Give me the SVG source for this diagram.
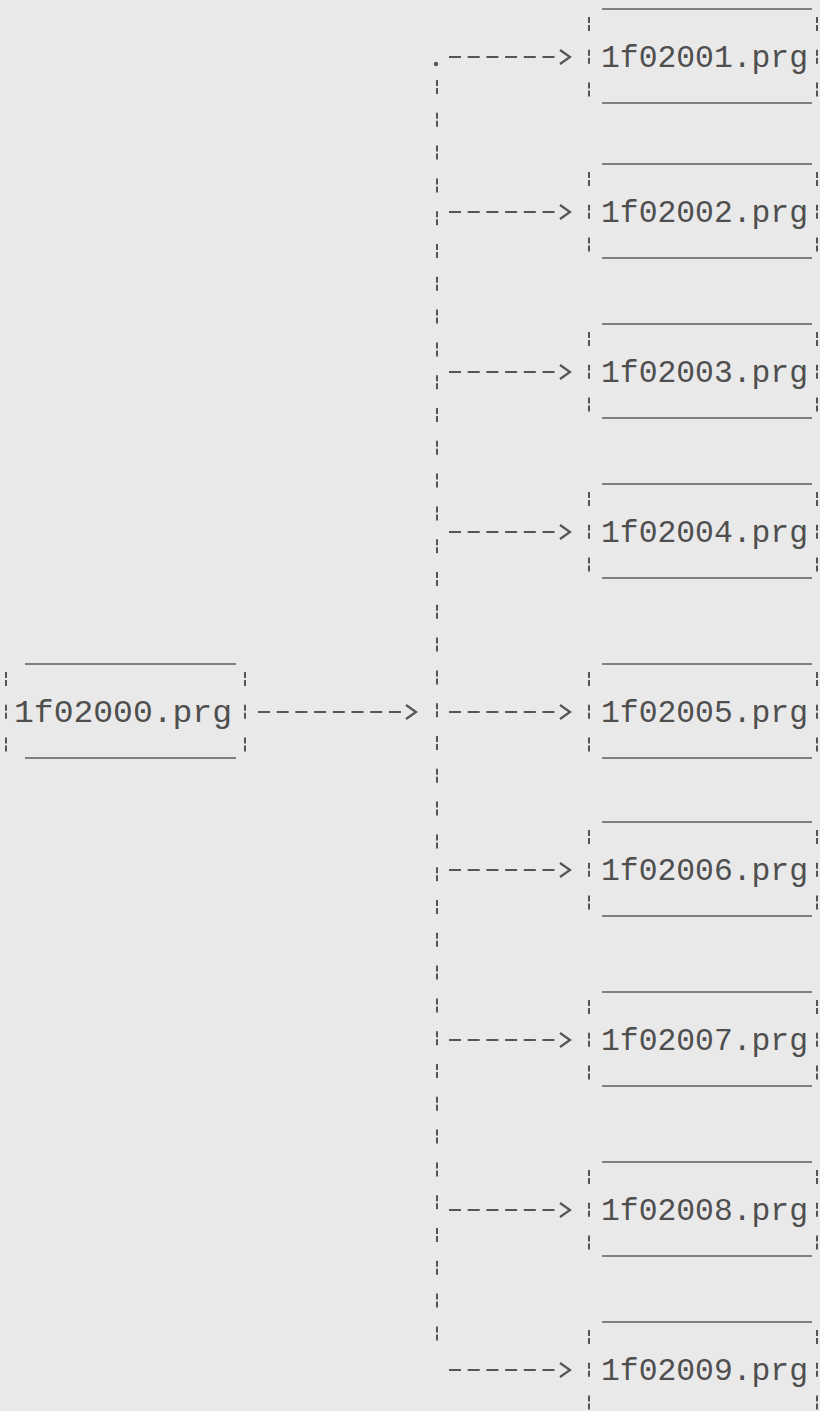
<svg xmlns="http://www.w3.org/2000/svg" width="820" height="1411" viewBox="0 0 820 1411">
<style>
.lbl{font-family:"Liberation Mono","DejaVu Sans Mono",monospace;font-size:31px;fill:#4f4f4f}
.rule{stroke:#5c5c5c;stroke-width:1.6}
.bar{stroke:#555;stroke-width:2;stroke-dasharray:6 2 6 18.8;fill:none}
.conn{stroke:#555;stroke-width:2;stroke-dasharray:12 6.7;fill:none}
</style>
<defs>
<marker id="chev" markerUnits="userSpaceOnUse" markerWidth="22" markerHeight="18" refX="-5" refY="8" orient="auto" viewBox="-6 0 22 16">
<path d="M0,1 L10,8 L0,15" fill="none" stroke="#555" stroke-width="2.2"/>
</marker>
</defs>
<rect width="820" height="1411" fill="#e9e9e9"/>

<g id="connectors">
<circle cx="436" cy="64" r="2.2" fill="#555"/>
<line class="bar" x1="437" y1="80" x2="437" y2="1350"/>
<line class="conn" x1="258" y1="712" x2="401" y2="712" marker-end="url(#chev)"/>
<line class="conn" x1="449" y1="57" x2="555" y2="57" marker-end="url(#chev)"/>
<line class="conn" x1="449" y1="212" x2="555" y2="212" marker-end="url(#chev)"/>
<line class="conn" x1="449" y1="372" x2="555" y2="372" marker-end="url(#chev)"/>
<line class="conn" x1="449" y1="532" x2="555" y2="532" marker-end="url(#chev)"/>
<line class="conn" x1="449" y1="712" x2="555" y2="712" marker-end="url(#chev)"/>
<line class="conn" x1="449" y1="870" x2="555" y2="870" marker-end="url(#chev)"/>
<line class="conn" x1="449" y1="1040" x2="555" y2="1040" marker-end="url(#chev)"/>
<line class="conn" x1="449" y1="1210" x2="555" y2="1210" marker-end="url(#chev)"/>
<line class="conn" x1="449" y1="1370" x2="555" y2="1370" marker-end="url(#chev)"/>
</g>

<g id="n2000">
<line class="rule" x1="25" y1="664" x2="236" y2="664"/>
<line class="rule" x1="25" y1="758" x2="236" y2="758"/>
<line class="bar" x1="6" y1="672" x2="6" y2="752"/>
<line class="bar" x1="245" y1="672" x2="245" y2="752"/>
<text class="lbl" x="14" y="722" textLength="218" lengthAdjust="spacingAndGlyphs">1f02000.prg</text>
</g>

<g id="n2001">
<line class="rule" x1="602" y1="9" x2="812" y2="9"/>
<line class="rule" x1="602" y1="103" x2="812" y2="103"/>
<line class="bar" x1="589" y1="17" x2="589" y2="97"/>
<line class="bar" x1="817" y1="17" x2="817" y2="97"/>
<text class="lbl" x="601" y="67" textLength="207" lengthAdjust="spacingAndGlyphs">1f02001.prg</text>
</g>

<g id="n2002">
<line class="rule" x1="602" y1="164" x2="812" y2="164"/>
<line class="rule" x1="602" y1="258" x2="812" y2="258"/>
<line class="bar" x1="589" y1="172" x2="589" y2="252"/>
<line class="bar" x1="817" y1="172" x2="817" y2="252"/>
<text class="lbl" x="601" y="222" textLength="207" lengthAdjust="spacingAndGlyphs">1f02002.prg</text>
</g>

<g id="n2003">
<line class="rule" x1="602" y1="324" x2="812" y2="324"/>
<line class="rule" x1="602" y1="418" x2="812" y2="418"/>
<line class="bar" x1="589" y1="332" x2="589" y2="412"/>
<line class="bar" x1="817" y1="332" x2="817" y2="412"/>
<text class="lbl" x="601" y="382" textLength="207" lengthAdjust="spacingAndGlyphs">1f02003.prg</text>
</g>

<g id="n2004">
<line class="rule" x1="602" y1="484" x2="812" y2="484"/>
<line class="rule" x1="602" y1="578" x2="812" y2="578"/>
<line class="bar" x1="589" y1="492" x2="589" y2="572"/>
<line class="bar" x1="817" y1="492" x2="817" y2="572"/>
<text class="lbl" x="601" y="542" textLength="207" lengthAdjust="spacingAndGlyphs">1f02004.prg</text>
</g>

<g id="n2005">
<line class="rule" x1="602" y1="664" x2="812" y2="664"/>
<line class="rule" x1="602" y1="758" x2="812" y2="758"/>
<line class="bar" x1="589" y1="672" x2="589" y2="752"/>
<line class="bar" x1="817" y1="672" x2="817" y2="752"/>
<text class="lbl" x="601" y="722" textLength="207" lengthAdjust="spacingAndGlyphs">1f02005.prg</text>
</g>

<g id="n2006">
<line class="rule" x1="602" y1="822" x2="812" y2="822"/>
<line class="rule" x1="602" y1="916" x2="812" y2="916"/>
<line class="bar" x1="589" y1="830" x2="589" y2="910"/>
<line class="bar" x1="817" y1="830" x2="817" y2="910"/>
<text class="lbl" x="601" y="880" textLength="207" lengthAdjust="spacingAndGlyphs">1f02006.prg</text>
</g>

<g id="n2007">
<line class="rule" x1="602" y1="992" x2="812" y2="992"/>
<line class="rule" x1="602" y1="1086" x2="812" y2="1086"/>
<line class="bar" x1="589" y1="1000" x2="589" y2="1080"/>
<line class="bar" x1="817" y1="1000" x2="817" y2="1080"/>
<text class="lbl" x="601" y="1050" textLength="207" lengthAdjust="spacingAndGlyphs">1f02007.prg</text>
</g>

<g id="n2008">
<line class="rule" x1="602" y1="1162" x2="812" y2="1162"/>
<line class="rule" x1="602" y1="1256" x2="812" y2="1256"/>
<line class="bar" x1="589" y1="1170" x2="589" y2="1250"/>
<line class="bar" x1="817" y1="1170" x2="817" y2="1250"/>
<text class="lbl" x="601" y="1220" textLength="207" lengthAdjust="spacingAndGlyphs">1f02008.prg</text>
</g>

<g id="n2009">
<line class="rule" x1="602" y1="1322" x2="812" y2="1322"/>
<line class="bar" x1="589" y1="1330" x2="589" y2="1411"/>
<line class="bar" x1="817" y1="1330" x2="817" y2="1411"/>
<text class="lbl" x="601" y="1380" textLength="207" lengthAdjust="spacingAndGlyphs">1f02009.prg</text>
</g>
</svg>
